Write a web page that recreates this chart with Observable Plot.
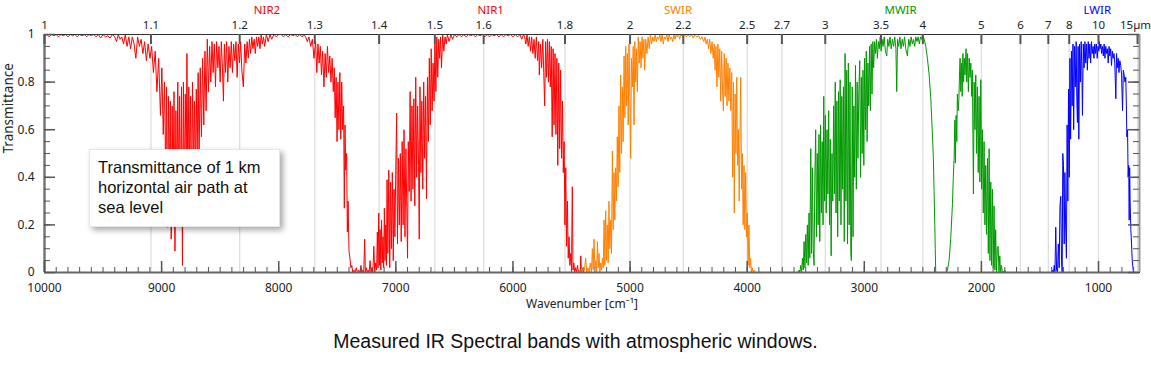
<!DOCTYPE html>
<html><head><meta charset="utf-8">
<script src="https://cdn.jsdelivr.net/npm/d3@7"></script>
<script src="https://cdn.jsdelivr.net/npm/@observablehq/plot@0.6"></script>
<style>
body{margin:0;background:#fff;}
#wrap{position:relative;width:1151px;height:385px;}
#note{position:absolute;left:89px;top:149px;width:181px;height:69px;background:#fff;box-shadow:3px 3px 6px rgba(0,0,0,.35);padding:7px 0 0 8px;font:16.5px/20px "Liberation Sans",Arial,sans-serif;color:#111;border:1px solid #e6e6e6;white-space:nowrap;}
#cap{position:absolute;left:0;width:1151px;top:330px;text-align:center;font:19.5px "Liberation Sans",Arial,sans-serif;color:#111;}
</style></head><body>
<div id="wrap"><div id="chart"></div>
<div id="note">Transmittance of 1 km<br>horizontal air path at<br>sea level</div>
<div id="cap">Measured IR Spectral bands with atmospheric windows.</div>
</div>
<script>
// [wavenumber cm-1, transmittance]
const nirSpectrum = [
[10000,0.99],[9980,1],[9960,0.99],[9940,1],[9920,0.995],[9900,1],[9880,0.99],[9860,1],[9840,0.995],[9820,1],[9800,0.99],[9780,1],[9760,0.995],[9740,1],[9720,0.99],[9700,1],[9680,0.995],[9660,1],[9640,0.99],[9620,1],[9600,0.995],[9580,1],[9560,0.99],[9540,1],[9520,0.985],[9500,1],[9480,0.99],[9460,0.995],[9440,0.985],[9420,1],
[9400,0.99],[9385,0.97],[9370,1],[9355,0.98],[9340,0.99],[9325,0.96],[9310,1],[9295,0.95],[9280,0.99],[9265,0.94],[9250,0.99],[9235,0.96],[9220,0.9],[9205,0.99],[9190,0.95],[9175,0.98],[9160,0.92],[9145,0.97],[9130,0.89],[9115,0.96],[9100,0.9],
[9085,0.95],[9070,0.84],[9055,0.93],[9040,0.76],[9025,0.9],[9010,0.66],[8998,0.86],[8986,0.58],[8975,0.8],[8965,0.4],[8958,0.78],[8950,0.19],[8942,0.74],[8934,0.35],[8926,0.72],[8918,0.14],[8910,0.7],[8902,0.3],[8894,0.76],[8886,0.09],[8878,0.68],[8870,0.25],[8862,0.8],[8854,0.35],[8846,0.74],[8838,0.2],[8830,0.78],[8822,0.03],[8814,0.8],[8806,0.3],[8798,0.75],[8790,0.45],[8784,0.92],[8776,0.35],[8768,0.78],[8760,0.42],[8752,0.74],[8744,0.3],[8736,0.8],[8728,0.45],[8720,0.72],[8712,0.4],[8704,0.77],[8696,0.5],[8688,0.84],[8680,0.48],[8670,0.86],[8660,0.57],[8650,0.9],[8640,0.62],[8630,0.93],[8620,0.68],[8610,0.98],[8600,0.76],[8590,0.95],[8580,0.8],[8570,0.97],[8560,0.84],[8550,0.96],[8540,0.78],[8530,0.97],[8520,0.86],[8510,0.95],[8500,0.8],[8490,0.97],[8480,0.85],[8472,0.72],[8464,0.96],[8455,0.84],[8445,0.97],[8435,0.8],[8425,0.95],[8415,0.86],[8405,0.97],[8395,0.84],[8385,0.96],[8375,0.89],[8365,0.97],[8355,0.82],[8345,0.96],[8335,0.88],[8325,0.97],[8315,0.85],[8302,0.78],[8290,0.96],[8280,0.88],[8270,0.97],[8260,0.9],[8250,0.98],[8240,0.92],[8230,0.99],[8220,0.94],[8210,0.98],[8200,0.92],[8190,0.99],[8180,0.95],[8170,0.99],[8160,0.94],[8150,1],[8140,0.96],[8130,0.99],[8120,0.95],[8105,1],[8090,0.97],[8075,1],[8060,0.98],[8040,1],[8020,0.99],[8000,1],
[7980,1],[7960,0.99],[7940,1],[7920,0.99],[7900,1],[7880,0.995],[7860,1],[7840,0.99],[7820,1],[7800,0.99],[7785,1],
[7770,0.99],[7756,0.97],[7742,0.99],[7727,0.95],[7713,0.98],[7699,0.9],[7685,0.97],[7675,0.84],[7665,0.96],[7655,0.88],[7645,0.95],[7635,0.83],[7625,0.93],[7614,0.78],[7604,0.92],[7594,0.82],[7584,0.95],[7574,0.84],[7564,0.91],[7554,0.8],[7544,0.9],[7534,0.76],[7526,0.86],[7518,0.65],[7510,0.82],[7502,0.55],[7494,0.8],[7486,0.6],[7478,0.84],[7470,0.56],[7462,0.8],[7454,0.6],[7446,0.7],[7440,0.27],[7434,0.62],[7428,0.43],[7420,0.5],[7414,0.17],[7408,0.3],[7400,0.09],
[7392,0.06],[7384,0.02],[7376,0.03],[7368,0],[7358,0.01],[7348,0],[7338,0.02],[7328,0],[7318,0.01],[7308,0],[7298,0.03],[7290,0],[7282,0.01],[7274,0],[7266,0.14],[7260,0],[7252,0.02],[7244,0],[7236,0.01],[7228,0],[7220,0.05],[7212,0],[7204,0.02],[7196,0],[7188,0.11],[7180,0],[7172,0.04],[7164,0.01],[7158,0.17],[7152,0.02],[7146,0.25],[7140,0.03],[7134,0.18],[7128,0.01],[7122,0.22],[7116,0.04],[7110,0.15],[7104,0.02],[7098,0.27],[7092,0.05],[7086,0.2],[7080,0.03],[7075,0.39],[7068,0.08],[7060,0.43],[7052,0.02],[7045,0.38],[7038,0.1],[7030,0.42],[7022,0.05],[7015,0.35],[7008,0.15],[7000,0.45],[6993,0.67],[6986,0.12],[6978,0.48],[6970,0.2],[6962,0.5],[6954,0.13],[6946,0.55],[6938,0.2],[6930,0.6],[6922,0.15],[6914,0.52],[6906,0.25],[6900,0.06],[6894,0.55],[6886,0.34],[6878,0.76],[6870,0.3],[6862,0.7],[6854,0.35],[6846,0.73],[6838,0.28],[6830,0.82],[6822,0.4],[6814,0.7],[6806,0.45],[6800,0.14],[6794,0.78],[6786,0.42],[6778,0.72],[6770,0.35],[6762,0.8],[6754,0.48],[6746,0.74],[6738,0.31],[6730,0.82],[6722,0.55],[6714,0.9],[6706,0.62],[6698,0.94],[6690,0.68],[6682,0.88],[6674,0.72],[6666,0.96],[6658,0.76],[6650,0.99],[6642,0.82],[6634,0.98],[6626,0.9],[6618,0.99],[6610,0.86],[6600,1],[6590,0.93],[6580,0.99],[6570,0.96],[6560,1],[6545,0.97],[6530,1],[6515,0.98],[6500,1],[6480,0.99],[6460,1],[6440,0.99],[6420,1],[6400,0.99],[6380,1],[6360,0.995],[6340,1],[6320,0.99],[6300,1],[6280,0.995],[6260,1],[6240,0.99],[6220,1],[6200,0.99],[6180,1],[6160,0.995],[6140,1],[6120,0.99],[6100,1],[6080,0.99],[6060,1],[6040,0.995],[6020,1],[6000,0.99],[5980,1],[5960,0.99],[5940,1],[5925,0.98],[5910,1],
[5900,0.99],[5890,0.96],[5880,1],[5870,0.95],[5860,0.99],[5850,0.93],[5840,0.99],[5830,0.92],[5820,0.98],[5810,0.9],[5800,0.99],[5790,0.89],[5780,0.97],[5775,0.83],[5765,0.96],[5755,0.86],[5745,0.98],[5737,0.84],[5729,0.7],[5721,0.97],[5713,0.82],[5705,0.98],[5697,0.8],[5689,0.97],[5681,0.78],[5673,0.95],[5665,0.57],[5657,0.94],[5649,0.62],[5641,0.92],[5633,0.58],[5625,0.9],[5617,0.45],[5609,0.88],[5601,0.52],[5593,0.85],[5585,0.48],[5577,0.72],[5570,0.42],[5563,0.55],[5556,0.2],[5549,0.44],[5542,0.11],[5535,0.3],[5528,0.06],[5521,0.15],[5514,0.03],[5507,0.08],[5500,0.02],[5493,0.36],[5487,0.01],[5480,0.04],[5473,0],[5465,0.02],[5457,0],[5449,0.03],[5441,0],[5433,0.01],[5425,0],[5421,0.07],[5415,0],[5405,0]
];
const swirSpectrum = [
[5440,0],[5430,0.01],[5420,0],[5410,0.02],[5400,0],[5390,0.01],[5379,0.06],[5370,0],[5360,0.02],[5350,0],[5340,0.04],[5330,0],[5322,0.1],[5315,0.01],[5308,0.14],[5300,0.02],[5292,0.05],[5285,0],[5279,0.13],[5272,0.02],[5265,0.08],[5258,0],[5250,0.04],[5243,0.01],[5236,0.06],[5229,0.02],[5222,0.22],[5215,0.03],[5208,0.26],[5201,0.05],[5194,0.2],[5187,0.04],[5180,0.3],[5173,0.1],[5166,0.22],[5159,0.08],[5151,0.51],[5144,0.18],[5137,0.42],[5130,0.22],[5123,0.44],[5116,0.3],[5109,0.57],[5102,0.36],[5095,0.7],[5088,0.42],[5080,0.83],[5073,0.5],[5066,0.78],[5059,0.55],[5051,0.91],[5044,0.65],[5037,0.95],[5030,0.7],[5023,0.92],[5016,0.62],[5009,0.96],[5002,0.74],[4995,0.48],[4988,0.9],[4980,0.78],[4973,0.95],[4966,0.62],[4959,0.97],[4952,0.8],[4945,0.94],[4938,0.76],[4930,0.99],[4922,0.88],[4914,0.97],[4906,0.86],[4898,0.99],[4890,0.9],[4882,0.98],[4875,0.85],[4866,0.98],[4856,0.92],[4846,0.99],[4836,0.94],[4826,1],[4816,0.96],[4806,0.99],[4796,0.97],[4786,1],[4776,0.97],[4766,0.99],[4756,0.98],[4746,1],[4736,0.97],[4726,1],[4716,0.96],[4706,0.99],[4696,0.98],[4686,1],[4676,0.97],[4666,1],[4656,0.98],[4646,0.99],[4636,0.97],[4626,1],[4616,0.98],[4606,1],[4596,0.99],[4586,1],[4576,0.98],[4566,1],[4550,0.99],[4535,1],[4520,0.99],[4505,1],[4490,0.99],[4475,1],[4460,0.985],[4445,1],[4430,0.99],[4415,0.995],[4400,0.98],[4385,0.99],[4370,0.97],[4360,0.99],[4350,0.96],[4340,0.98],[4330,0.94],[4320,0.98],[4310,0.92],[4300,0.97],[4290,0.9],[4282,0.96],[4274,0.85],[4266,0.95],[4258,0.78],[4250,0.96],[4242,0.82],[4234,0.94],[4226,0.72],[4218,0.93],[4210,0.76],[4203,0.68],[4196,0.92],[4188,0.74],[4180,0.9],[4172,0.7],[4164,0.88],[4156,0.72],[4148,0.86],[4140,0.68],[4132,0.84],[4124,0.4],[4117,0.8],[4110,0.25],[4103,0.75],[4096,0.5],[4089,0.82],[4082,0.45],[4075,0.6],[4068,0.3],[4062,0.55],[4055,0.82],[4048,0.35],[4041,0.5],[4034,0.2],[4027,0.45],[4020,0.18],[4013,0.42],[4006,0.15],[3999,0.25],[3992,0.03],[3985,0.2],[3978,0.02],[3971,0.06],[3964,0],[3957,0.02],[3950,0],[3940,0.01],[3930,0],[3900,0],[3850,0],[3800,0],[3750,0],[3713,0]
];
const mwirSpectrum = [
[3713,0],[3650,0],[3600,0],[3570,0],[3557,0.01],[3550,0],[3543,0.03],[3536,0],[3528,0.06],[3521,0.01],[3514,0.13],[3507,0.02],[3500,0.16],[3493,0.04],[3486,0.2],[3479,0.03],[3472,0.25],[3465,0.06],[3457,0.52],[3450,0.08],[3443,0.44],[3436,0.1],[3429,0.03],[3422,0.4],[3415,0.6],[3408,0.15],[3401,0.5],[3394,0.2],[3387,0.58],[3380,0.13],[3373,0.62],[3366,0.25],[3359,0.55],[3352,0.2],[3346,0.74],[3339,0.3],[3332,0.66],[3325,0.25],[3318,0.6],[3311,0.33],[3304,0.68],[3297,0.2],[3290,0.56],[3283,0.07],[3276,0.5],[3269,0.3],[3262,0.7],[3255,0.33],[3248,0.8],[3241,0.25],[3234,0.72],[3227,0.15],[3220,0.76],[3213,0.3],[3206,0.81],[3199,0.2],[3192,0.74],[3185,0.35],[3178,0.78],[3171,0.13],[3164,0.92],[3157,0.3],[3150,0.85],[3143,0.12],[3136,0.88],[3129,0.2],[3122,0.8],[3115,0.08],[3110,0.05],[3103,0.78],[3096,0.15],[3089,0.7],[3082,0.4],[3075,0.87],[3068,0.35],[3061,0.8],[3054,0.48],[3047,0.75],[3039,0.89],[3032,0.4],[3025,0.82],[3018,0.5],[3011,0.85],[3004,0.45],[2997,0.9],[2990,0.6],[2983,0.93],[2976,0.55],[2969,0.88],[2962,0.7],[2955,0.95],[2948,0.68],[2941,0.96],[2934,0.75],[2927,0.97],[2920,0.86],[2912,0.97],[2904,0.92],[2896,0.98],[2888,0.9],[2880,0.97],[2872,0.94],[2864,0.99],[2856,0.93],[2848,0.98],[2840,0.95],[2830,0.99],[2820,0.93],[2808,0.91],[2800,0.98],[2790,0.95],[2780,0.99],[2770,0.94],[2760,0.98],[2750,0.95],[2740,0.99],[2730,0.94],[2723,0.76],[2716,0.98],[2706,0.95],[2696,0.99],[2686,0.94],[2676,0.98],[2666,0.95],[2656,0.99],[2646,0.94],[2632,0.91],[2620,0.98],[2610,0.95],[2600,0.99],[2590,0.96],[2580,0.98],[2570,0.95],[2560,0.99],[2550,0.97],[2540,0.99],[2530,0.96],[2520,0.99],[2510,0.98],[2503,1],[2489,0.98],[2475,0.95],[2461,0.9],[2446,0.83],[2432,0.73],[2420,0.6],[2410,0.48],[2404,0.34],[2398,0.2],[2394,0.1],[2390,0],[2350,0],[2300,0],[2290,0.01],[2276,0.05],[2262,0.14],[2247,0.29],[2240,0.4],[2233,0.48],[2227,0.64],[2222,0.46],[2216,0.66],[2210,0.55],[2205,0.75],[2198,0.68],[2192,0.73],[2186,0.85],[2182,0.9],[2176,0.76],[2170,0.88],[2164,0.74],[2158,0.92],[2152,0.8],[2146,0.9],[2140,0.83],[2131,0.94],[2125,0.8],[2118,0.92],[2111,0.76],[2104,0.9],[2097,0.82],[2090,0.88],[2083,0.74],[2077,0.85],[2068,0.33],[2062,0.8],[2055,0.6],[2048,0.83],[2041,0.5],[2034,0.78],[2027,0.42],[2020,0.74],[2013,0.38],[2005,0.81],[1998,0.35],[1991,0.6],[1984,0.25],[1977,0.55],[1970,0.2],[1963,0.45],[1956,0.16],[1948,0.48],[1941,0.08],[1934,0.52],[1927,0.05],[1920,0.38],[1913,0.03],[1906,0.35],[1899,0.02],[1892,0.28],[1885,0.01],[1878,0.18],[1871,0],[1864,0.1],[1857,0.11],[1850,0],[1843,0.07],[1836,0],[1829,0.03],[1820,0],[1800,0.01],[1790,0],[1750,0],[1700,0],[1650,0],[1607,0]
];
const lwirSpectrum = [
[1607,0],[1550,0],[1500,0],[1450,0],[1400,0],[1393,0.01],[1385,0],[1378,0.03],[1372,0],[1365,0.19],[1358,0.01],[1350,0],[1343,0.12],[1336,0.02],[1329,0.28],[1322,0.32],[1316,0.05],[1310,0],[1305,0.5],[1299,0.45],[1293,0.12],[1287,0.42],[1281,0.2],[1274,0.06],[1268,0.62],[1262,0.3],[1256,0.77],[1250,0.4],[1244,0.9],[1238,0.56],[1231,0.93],[1225,0.7],[1218,0.96],[1212,0.6],[1205,0.95],[1198,0.78],[1191,0.97],[1185,0.72],[1180,0.63],[1174,0.95],[1168,0.56],[1162,0.96],[1155,0.8],[1148,0.97],[1142,0.85],[1137,0.66],[1130,0.96],[1123,0.86],[1116,0.97],[1109,0.88],[1102,0.96],[1095,0.85],[1088,0.97],[1081,0.9],[1074,0.96],[1067,0.88],[1060,0.97],[1053,0.92],[1046,0.95],[1039,0.9],[1032,0.96],[1025,0.92],[1018,0.96],[1011,0.9],[1004,0.95],[997,0.93],[994,0.97],[987,0.94],[980,0.96],[973,0.92],[966,0.95],[959,0.91],[952,0.96],[945,0.9],[938,0.95],[931,0.92],[924,0.94],[917,0.88],[910,0.95],[903,0.91],[896,0.94],[889,0.87],[882,0.93],[875,0.9],[868,0.92],[861,0.88],[852,0.73],[846,0.92],[839,0.86],[832,0.9],[825,0.84],[818,0.89],[810,0.87],[803,0.83],[795,0.68],[788,0.85],[781,0.83],[774,0.8],[767,0.82],[762,0.7],[758,0.57],[752,0.6],[747,0.4],[742,0.45],[738,0.22],[734,0.44],[730,0.3],[724,0.18],[718,0.12],[712,0.05],[706,0.02],[701,0],[690,0],[670,0],[650,0]
];

const wnMajorTicks = [10000,9000,8000,7000,6000,5000,4000,3000,2000,1000];
const wnMinorTicks = d3.range(10000, 650, -100);
const yMajorTicks = [0,0.2,0.4,0.6,0.8,1];
const yMinorTicks = d3.range(0, 1.001, 0.05);
const umTicks = [1,1.1,1.2,1.3,1.4,1.5,1.6,1.8,2,2.2,2.5,2.7,3,3.5,4,5,6,7,8,10,15];
const umLabels = ["1","1.1","1.2","1.3","1.4","1.5","1.6","1.8","2","2.2","2.5","2.7","3","3.5","4","5","6","7","8","10","15µm"];
const bandNames = ["NIR2","NIR1","SWIR","MWIR","LWIR"];
const bandCenters = [8100,6190,4590,2690,1010];
const bandColors = ["#ff0000","#ff0000","#ff8000","#009900","#0000ff"];

const W = 1151, H = 320, mL = 44, mR = 12, mT = 34, mB = 48;
const plotW = W - mL - mR, plotH = H - mT - mB;
const umWn = umTicks.map(u => 10000 / u);
const umRows = umTicks.map((u, i) => ({wn: 10000 / u, label: umLabels[i]}));
const umRowsMid = umRows.slice(0, -1);
const umRowsEnd = umRows.slice(-1);
const bandRows = bandNames.map((n, i) => ({name: n, wn: bandCenters[i], color: bandColors[i]}));

const chart = Plot.plot({
  width: W, height: H,
  marginLeft: mL, marginRight: mR, marginTop: mT, marginBottom: mB,
  x: {domain: [10000, 650]},
  y: {domain: [0, 1]},
  style: {fontFamily: '"Noto Sans", sans-serif', fontSize: "12px", color: "#222", background: "white", overflow: "visible"},
  marks: [
    Plot.ruleX(umWn, {stroke: "#dedede", strokeWidth: 1.3}),
    Plot.line(nirSpectrum, {x: d => d[0], y: d => d[1], stroke: "#ff0000", strokeWidth: 1}),
    Plot.line(swirSpectrum, {x: d => d[0], y: d => d[1], stroke: "#ff8000", strokeWidth: 1}),
    Plot.line(mwirSpectrum, {x: d => d[0], y: d => d[1], stroke: "#009900", strokeWidth: 1}),
    Plot.line(lwirSpectrum, {x: d => d[0], y: d => d[1], stroke: "#0000ff", strokeWidth: 1}),
    Plot.ruleY([1], {stroke: "#333", strokeWidth: 1}),
    Plot.ruleY([0], {stroke: "#666", strokeWidth: 2}),
    Plot.ruleX([10000], {stroke: "#777", strokeWidth: 2.5}),
    Plot.ruleX([650], {stroke: "#999", strokeWidth: 2}),
    Plot.tickX(wnMinorTicks, {insetTop: plotH - 5, stroke: "#555", strokeWidth: 1}),
    Plot.tickX(wnMajorTicks, {insetTop: plotH - 11, stroke: "#555", strokeWidth: 1.5}),
    Plot.tickY(yMinorTicks, {insetRight: plotW - 6, stroke: "#555", strokeWidth: 1}),
    Plot.tickY(yMajorTicks, {insetRight: plotW - 11, stroke: "#555", strokeWidth: 1.5}),
    Plot.tickY(yMinorTicks, {insetLeft: plotW - 6, stroke: "#555", strokeWidth: 1}),
    Plot.tickY(yMajorTicks, {insetLeft: plotW - 11, stroke: "#555", strokeWidth: 1.5}),
    Plot.tickX(umWn, {insetBottom: plotH - 10, stroke: "#555", strokeWidth: 2}),
    Plot.text(umRowsMid, {x: "wn", text: "label", frameAnchor: "top", dy: -13.5, fontSize: 11.5, fill: "#222"}),
    Plot.text(umRowsEnd, {x: "wn", text: "label", frameAnchor: "top", dy: -13.5, dx: 13.5, textAnchor: "end", fontSize: 11.5, fill: "#222"}),
    Plot.text(bandRows, {x: "wn", text: "name", frameAnchor: "top", dy: -28.5, fontSize: 11.5, fill: "color"}),
    Plot.axisX({ticks: wnMajorTicks, tickSize: 0, tickPadding: 10.5, tickFormat: d => String(d), label: null}),
    Plot.axisY({ticks: yMajorTicks, tickSize: 0, tickPadding: 10, tickFormat: d => String(d), label: null}),
    Plot.text(["Transmittance"], {frameAnchor: "left", rotate: -90, dx: -36, fontSize: 13.5, fill: "#222"}),
    Plot.text(["Wavenumber [cm⁻¹]"], {frameAnchor: "bottom", dx: -10, dy: 35, fontSize: 12, fill: "#222"})
  ]
});
document.getElementById("chart").append(chart);
</script>
</body></html>
